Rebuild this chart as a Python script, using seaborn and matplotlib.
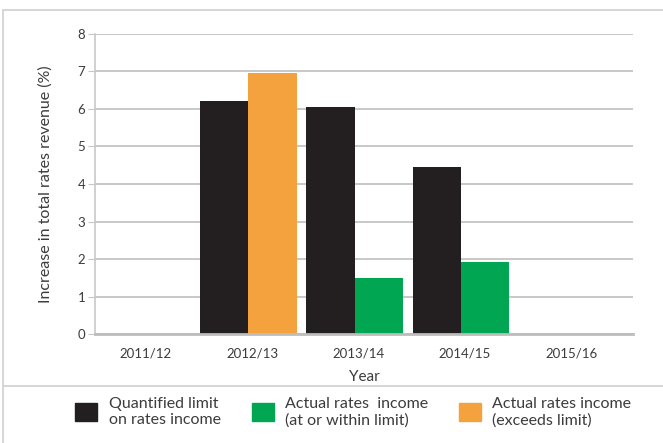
import pandas as pd
import matplotlib.pyplot as plt
import matplotlib.transforms as mtransforms
import seaborn as sns
from matplotlib.patches import Patch
from matplotlib.lines import Line2D

# --- Datos ---
years = ["2011/12", "2012/13", "2013/14", "2014/15", "2015/16"]
limit_values = [0, 6.22, 6.05, 4.46, 0]
actual_values = [0, 6.95, 1.49, 1.92, 0]

serie_limite = "Quantified limit\non rates income"
serie_dentro = "Actual rates  income\n(at or within limit)"
serie_excede = "Actual rates income\n(exceeds limit)"

c_negro = "#231f20"
c_verde = "#00a651"
c_naranja = "#f4a23e"
c_texto = "#3c3c3c"
c_gris = "#c8c8c8"

df = pd.DataFrame({
    "year": years * 2,
    "serie": ["limit"] * len(years) + ["actual"] * len(years),
    "valor": limit_values + actual_values,
})

sns.set_style("white")
plt.rcParams["font.family"] = ["Lato", "DejaVu Sans"]

fig = plt.figure(figsize=(6.63, 4.43), dpi=100)
ax = fig.add_axes([0.1433, 0.246, 0.8115, 0.6773])

sns.barplot(data=df, x="year", y="valor", hue="serie", order=years,
            hue_order=["limit", "actual"], palette=[c_negro, c_verde],
            width=0.91, linewidth=0, saturation=1, legend=False, ax=ax)

# --- Colorear barras reales segun si exceden el limite ---
for bar, lim, act in zip(ax.containers[1], limit_values, actual_values):
    bar.set_facecolor(c_naranja if act > lim else c_verde)

ax.set_xlim(-0.437, 4.615)
ax.set_ylim(0, 8)
ax.set_yticks(range(0, 9))
ax.grid(axis="y", color=c_gris, linewidth=1.4)
ax.set_axisbelow(True)
for lado in ["top", "right"]:
    ax.spines[lado].set_visible(False)
ax.spines["left"].set_color(c_gris)
ax.spines["left"].set_linewidth(1.2)
ax.spines["bottom"].set_color("#bdbdbd")
ax.spines["bottom"].set_linewidth(2)
ax.tick_params(axis="y", left=True, length=5, color=c_gris, labelsize=9.5,
               labelcolor=c_texto, pad=2)
ax.tick_params(axis="x", bottom=False, labelsize=9.5, labelcolor=c_texto, pad=6)
desplaza = mtransforms.ScaledTranslation(4 / 100, 0, fig.dpi_scale_trans)
for etiqueta in ax.get_xticklabels():
    etiqueta.set_transform(etiqueta.get_transform() + desplaza)
ax.set_xlabel("Year", fontsize=11, color=c_texto, labelpad=8)
ax.set_ylabel("Increase in total rates revenue (%)", fontsize=11.5,
              color=c_texto, labelpad=18)

# --- Marco y separador ---
fig.add_artist(Line2D([0.005, 0.005], [0, 0.977], color="#d0d0d0", lw=1.2))
fig.add_artist(Line2D([0.005, 1], [0.977, 0.977], color="#d0d0d0", lw=1.2))
fig.add_artist(Line2D([0.005, 1], [0.1287, 0.1287], color="#d0d0d0", lw=1.2))

# --- Leyenda ---
handles = [Patch(color=c_negro), Patch(color=c_verde), Patch(color=c_naranja)]
fig.legend(handles, [serie_limite, serie_dentro, serie_excede], ncol=3,
           loc="center", bbox_to_anchor=(0.533, 0.07), frameon=False,
           fontsize=11.5, labelcolor=c_texto, handlelength=1.375,
           handleheight=1.375, handletextpad=0.7, columnspacing=1.95)

plt.savefig("out.png", dpi=100)
